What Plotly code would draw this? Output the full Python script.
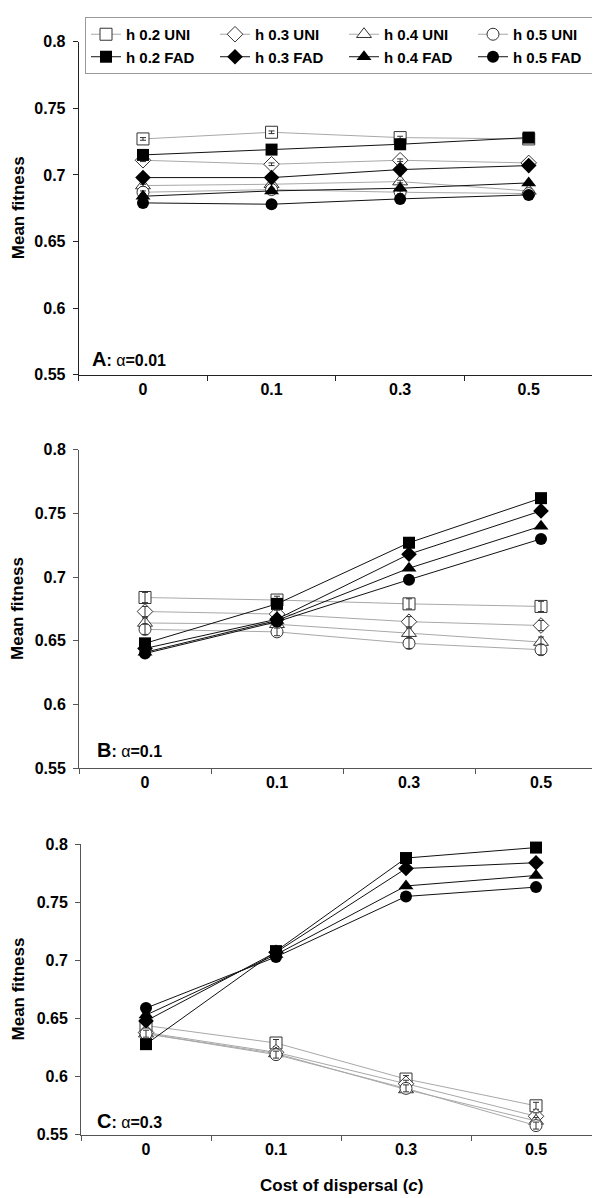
import plotly.graph_objects as go

W, H = 600, 1198

categories = ["0", "0.1", "0.3", "0.5"]
h_levels = ["0.2", "0.3", "0.4", "0.5"]
y_ticks = [0.55, 0.6, 0.65, 0.7, 0.75, 0.8]
y_ticktext = ["0.55", "0.6", "0.65", "0.7", "0.75", "0.8"]

# Panel A (alpha = 0.01)
uni_A_02 = [0.727, 0.732, 0.728, 0.727]
uni_A_03 = [0.711, 0.708, 0.711, 0.709]
uni_A_04 = [0.692, 0.693, 0.695, 0.688]
uni_A_05 = [0.687, 0.689, 0.687, 0.686]
fad_A_02 = [0.715, 0.719, 0.723, 0.728]
fad_A_03 = [0.698, 0.698, 0.704, 0.707]
fad_A_04 = [0.684, 0.688, 0.690, 0.694]
fad_A_05 = [0.679, 0.678, 0.682, 0.685]
err_A = [0.001, 0.001, 0.001, 0.001]

# Panel B (alpha = 0.1)
uni_B_02 = [0.684, 0.682, 0.679, 0.677]
uni_B_03 = [0.673, 0.671, 0.665, 0.662]
uni_B_04 = [0.664, 0.663, 0.656, 0.649]
uni_B_05 = [0.659, 0.657, 0.648, 0.643]
fad_B_02 = [0.648, 0.679, 0.727, 0.762]
fad_B_03 = [0.644, 0.667, 0.718, 0.752]
fad_B_04 = [0.641, 0.666, 0.707, 0.740]
fad_B_05 = [0.640, 0.665, 0.698, 0.730]
err_B = [0.004, 0.003, 0.004, 0.004]

# Panel C (alpha = 0.3)
uni_C_02 = [0.644, 0.629, 0.598, 0.575]
uni_C_03 = [0.638, 0.621, 0.594, 0.566]
uni_C_04 = [0.637, 0.620, 0.589, 0.562]
uni_C_05 = [0.637, 0.619, 0.590, 0.558]
fad_C_02 = [0.628, 0.708, 0.788, 0.797]
fad_C_03 = [0.648, 0.707, 0.779, 0.784]
fad_C_04 = [0.653, 0.705, 0.764, 0.773]
fad_C_05 = [0.659, 0.703, 0.755, 0.763]
err_C = [0.003, 0.003, 0.003, 0.003]

panels = [
    dict(uni=[uni_A_02, uni_A_03, uni_A_04, uni_A_05],
         fad=[fad_A_02, fad_A_03, fad_A_04, fad_A_05], err=err_A,
         letter="A", alpha="0.01"),
    dict(uni=[uni_B_02, uni_B_03, uni_B_04, uni_B_05],
         fad=[fad_B_02, fad_B_03, fad_B_04, fad_B_05], err=err_B,
         letter="B", alpha="0.1"),
    dict(uni=[uni_C_02, uni_C_03, uni_C_04, uni_C_05],
         fad=[fad_C_02, fad_C_03, fad_C_04, fad_C_05], err=err_C,
         letter="C", alpha="0.3"),
]

symbols = ["square", "diamond", "triangle-up", "circle"]
sizes = [12, 12, 13, 12]

# pixel geometry (left, right, top, bottom) of each plot area
geom = [
    (70.7, 585, 26, 364),
    (71, 599, 440, 763),
    (73, 593, 840, 1135),
]
axis_colors = ["#222222", "#555555", "#555555"]

FONT = "Liberation Sans, Arial, sans-serif"
fig = go.Figure()

for p, panel in enumerate(panels):
    xa = "x" if p == 0 else f"x{p+1}"
    ya = "y" if p == 0 else f"y{p+1}"
    for i, h in enumerate(h_levels):
        fig.add_trace(go.Scatter(
            x=categories, y=panel["uni"][i], xaxis=xa, yaxis=ya,
            mode="lines+markers", name=f"h {h} UNI",
            line=dict(color="#a8a8a8", width=1),
            marker=dict(symbol=symbols[i], size=sizes[i], color="white",
                        line=dict(color="#333333", width=1)),
            showlegend=(p == 0), legendrank=i + 1, cliponaxis=False,
        ))
        # error bars drawn on top of the open markers
        fig.add_trace(go.Scatter(
            x=categories, y=panel["uni"][i], xaxis=xa, yaxis=ya,
            mode="markers", marker=dict(size=1, color="rgba(0,0,0,0)"),
            error_y=dict(type="data", array=panel["err"], color="#333333",
                         thickness=1, width=3),
            showlegend=False, hoverinfo="skip", cliponaxis=False,
        ))
    for i, h in enumerate(h_levels):
        fig.add_trace(go.Scatter(
            x=categories, y=panel["fad"][i], xaxis=xa, yaxis=ya,
            mode="lines+markers", name=f"h {h} FAD",
            line=dict(color="#111111", width=1),
            marker=dict(symbol=symbols[i], size=sizes[i], color="black",
                        line=dict(color="black", width=0)),
            showlegend=(p == 0), legendrank=i + 5, cliponaxis=False,
        ))

layout = dict(
    width=W, height=H, margin=dict(l=0, r=0, t=0, b=0),
    paper_bgcolor="white", plot_bgcolor="white",
    font=dict(family=FONT, color="black"),
    legend=dict(orientation="h", x=77 / W, y=1 - 1 / H, xanchor="left",
                yanchor="top", bordercolor="#999999", borderwidth=1,
                bgcolor="white", entrywidth=84, traceorder="normal",
                font=dict(size=15, family=FONT, weight="bold", color="black")),
    annotations=[],
)

for p, (l, r, t, b) in enumerate(geom):
    xk = "xaxis" if p == 0 else f"xaxis{p+1}"
    yk = "yaxis" if p == 0 else f"yaxis{p+1}"
    ya = "y" if p == 0 else f"y{p+1}"
    xa = "x" if p == 0 else f"x{p+1}"
    layout[xk] = dict(
        domain=[l / W, r / W], anchor=ya, type="category",
        categoryorder="array", categoryarray=categories,
        range=[-0.5, 3.5], tickson="boundaries", ticks="outside", ticklen=5,
        tickcolor=axis_colors[p], showline=True, linecolor=axis_colors[p],
        linewidth=1, showgrid=False, zeroline=False,
        tickfont=dict(size=16, family=FONT, weight="bold", color="black"),
    )
    layout[yk] = dict(
        domain=[1 - b / H, 1 - t / H], anchor=xa, range=[0.55, 0.8],
        tickvals=y_ticks, ticktext=y_ticktext, ticks="outside", ticklen=5,
        tickcolor=axis_colors[p], showline=True, linecolor=axis_colors[p],
        linewidth=1, showgrid=False, zeroline=False, ticklabelstandoff=4,
        tickfont=dict(size=16, family=FONT, weight="bold", color="black"),
    )
    layout["annotations"].append(dict(
        text="<b>Mean fitness</b>", xref="paper", yref="paper",
        x=10 / W, y=1 - ((t + b) / 2) / H, textangle=-90, showarrow=False,
        font=dict(size=17, family=FONT, color="black"),
        xanchor="center", yanchor="middle",
    ))
    lx = [82, 87, 87][p]
    ly = [348, 745, 1121][p]
    panel = panels[p]
    layout["annotations"].append(dict(
        text=f"<b><span style='font-size:20px'>{panel['letter']}</span>:</b> α<b>={panel['alpha']}</b>",
        xref="paper", yref="paper", x=lx / W, y=1 - ly / H,
        xanchor="left", yanchor="middle", showarrow=False,
        font=dict(size=16, family=FONT, color="black"),
    ))

layout["annotations"].append(dict(
    text="<b>Cost of dispersal (<i>c</i>)</b>", xref="paper", yref="paper",
    x=333 / W, y=1 - 1186 / H, xanchor="center", yanchor="middle",
    showarrow=False, font=dict(size=17, family=FONT, color="black"),
))

fig.update_layout(**layout)
fig.write_html("out.html")
